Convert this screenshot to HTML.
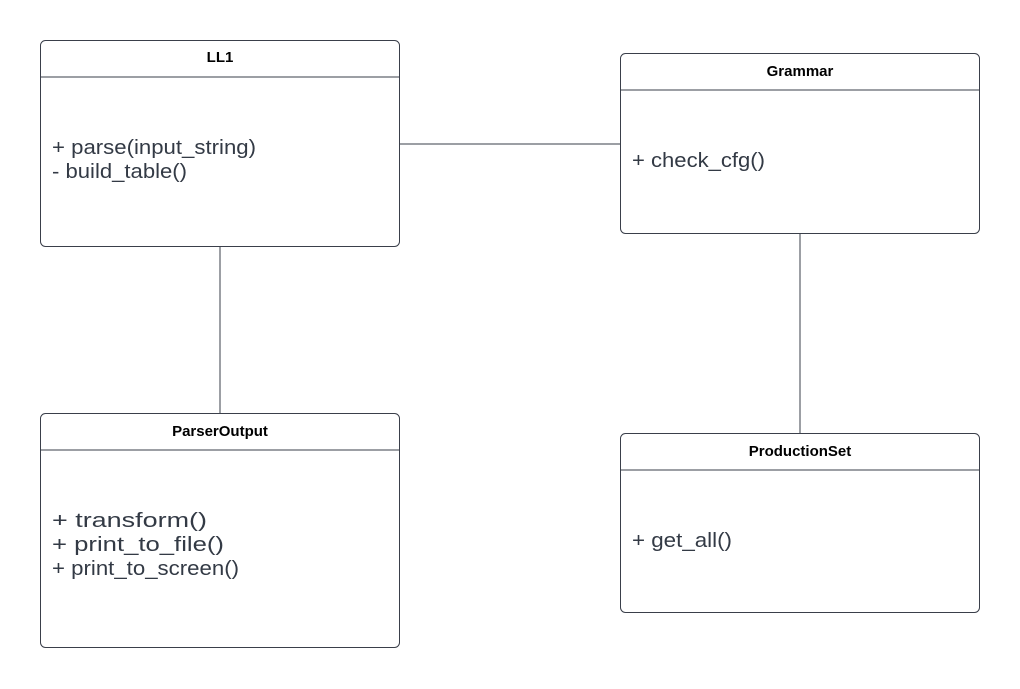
<!DOCTYPE html>
<html><head><meta charset="utf-8"><style>
html,body{margin:0;padding:0;background:#fff;}
svg{display:block;}
.t{font-family:"Liberation Sans",sans-serif;font-weight:bold;font-size:15px;fill:#000;text-anchor:middle;}
.m{font-family:"Liberation Sans",sans-serif;font-size:20px;fill:#333a45;}
rect{fill:#fff;stroke:#3a3f4a;stroke-width:1;}
line{stroke:#3a3f4a;stroke-width:1;}
</style></head><body>
<svg width="1020" height="689" viewBox="0 0 1020 689">
<line x1="400" y1="144" x2="620" y2="144"/>
<line x1="220" y1="247" x2="220" y2="413"/>
<line x1="800" y1="234" x2="800" y2="433"/>

<rect x="40.5" y="40.5" width="359" height="206" rx="5"/>
<line x1="40.5" y1="77" x2="399.5" y2="77"/>
<text class="t" x="220" y="62">LL1</text>
<text class="m" x="52" y="154" textLength="204" lengthAdjust="spacingAndGlyphs">+ parse(input_string)</text>
<text class="m" x="52" y="178" textLength="135" lengthAdjust="spacingAndGlyphs">- build_table()</text>

<rect x="620.5" y="53.5" width="359" height="180" rx="5"/>
<line x1="620.5" y1="90" x2="979.5" y2="90"/>
<text class="t" x="800" y="76">Grammar</text>
<text class="m" x="632" y="167" textLength="133" lengthAdjust="spacingAndGlyphs">+ check_cfg()</text>

<rect x="40.5" y="413.5" width="359" height="234" rx="5"/>
<line x1="40.5" y1="450" x2="399.5" y2="450"/>
<text class="t" x="220" y="436">ParserOutput</text>
<text class="m" x="52" y="527" textLength="155" lengthAdjust="spacingAndGlyphs">+ transform()</text>
<text class="m" x="52" y="551" textLength="172" lengthAdjust="spacingAndGlyphs">+ print_to_file()</text>
<text class="m" x="52" y="575" textLength="187" lengthAdjust="spacingAndGlyphs">+ print_to_screen()</text>

<rect x="620.5" y="433.5" width="359" height="179" rx="5"/>
<line x1="620.5" y1="470" x2="979.5" y2="470"/>
<text class="t" x="800" y="456">ProductionSet</text>
<text class="m" x="632" y="547" textLength="100" lengthAdjust="spacingAndGlyphs">+ get_all()</text>
</svg>
</body></html>
